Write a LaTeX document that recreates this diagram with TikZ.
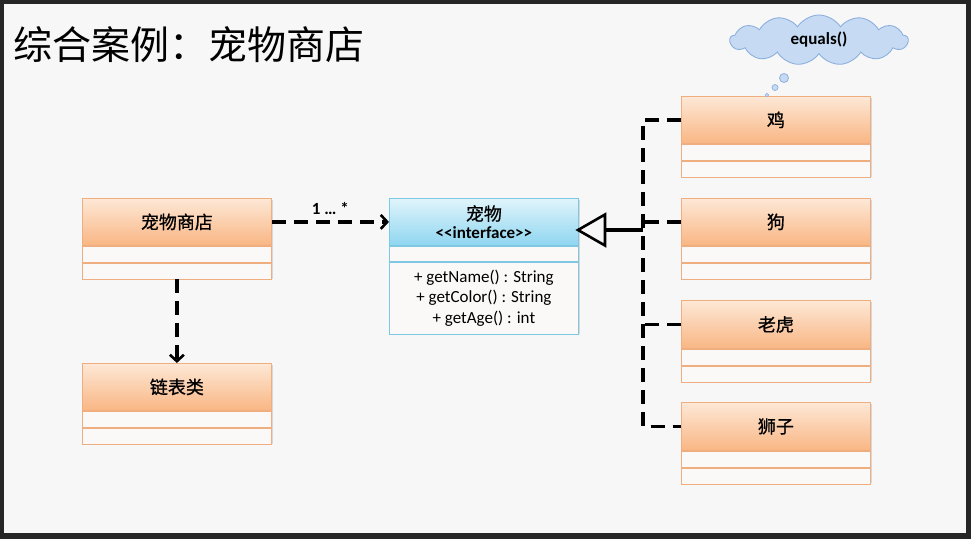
\documentclass[tikz,border=0pt]{standalone}
\usepackage{fontspec}
\setmainfont{Carlito}
\newfontfamily\lat{Carlito}
\newfontfamily\cjk{Noto Sans CJK SC}
\newfontfamily\cjkb{Noto Sans CJK SC}[FakeBold=0.8]
\usetikzlibrary{arrows.meta,shapes.symbols,calc}
\definecolor{bgdark}{HTML}{262626}
\definecolor{page}{HTML}{F7F7F7}
\definecolor{ortop}{HTML}{FDE8D6}
\definecolor{orbot}{HTML}{F9B684}
\definecolor{orline}{HTML}{EFAE80}
\definecolor{rowfill}{HTML}{FBF9F8}
\definecolor{bltop}{HTML}{E0F4FB}
\definecolor{blbot}{HTML}{8FD6F0}
\definecolor{blline}{HTML}{7FC8E4}
\definecolor{cloudfill}{HTML}{C6DBF3}
\definecolor{cloudline}{HTML}{8CB0DE}
\tikzset{
  hdr/.style={draw=orline, line width=0.8pt, top color=ortop, bottom color=orbot,
    minimum width=189, minimum height=47, anchor=north west, inner sep=0pt,
    font=\cjkb\fontsize{18}{20}\selectfont},
  rowbox/.style={draw=orline, line width=0.8pt, fill=rowfill, minimum width=189,
    minimum height=16, anchor=north west, inner sep=0pt},
  bhdr/.style={hdr, draw=blline, top color=bltop, bottom color=blbot, align=center},
  brow/.style={rowbox, draw=blline},
  shade/.style={fill=black, opacity=0.12},
  dashline/.style={line width=3.2pt, dash pattern=on 14pt off 8pt, black},
  depend/.style={dashline, -{Straight Barb[length=6.5pt,width=14pt,line width=2.6pt]}},
}
\begin{document}
\begin{tikzpicture}[x=1pt,y=-1pt]
\fill[bgdark] (0,0) rectangle (971,539);
\fill[page] (4,4) rectangle (966,533);
\useasboundingbox (0,0) rectangle (971,539);

% title
\node[anchor=west, inner sep=0pt, font=\cjk\fontsize{39}{42}\selectfont] (title) at (13,45) {综合案例：宠物商店};

% shadows
\foreach \x/\y/\h in {82/198/79, 82/363/79, 389/198/134, 681/96/79, 681/198/79, 681/300/79, 681/402/79}
  \fill[shade] (\x+2,\y+2) rectangle ++(189,\h);

% 宠物商店
\node[hdr] (shop) at (82,198) {宠物商店};
\node[rowbox] (shopa) at (shop.south west) {};
\node[rowbox] (shopb) at (shopa.south west) {};

% 链表类
\node[hdr] (list) at (82,363) {链表类};
\node[rowbox] (lista) at (list.south west) {};
\node[rowbox] (listb) at (lista.south west) {};

% interface
\node[bhdr] (iface) at (389,198) {宠物\\[-2pt]\lat\bfseries\fontsize{17}{19}\selectfont <<interface>>};
\node[brow, minimum height=15] (ifacea) at (iface.south west) {};
\node[brow, minimum height=72, align=center, font=\lat\fontsize{17}{20.5}\selectfont] (ifaceb) at (ifacea.south west)
  {+ getName() : String\\+ getColor() : String\\+ getAge() : int};

% right classes
\node[hdr] (chick) at (681,96) {鸡};
\node[rowbox] (chicka) at (chick.south west) {};
\node[rowbox] (chickb) at (chicka.south west) {};

\node[hdr] (dog) at (681,198) {狗};
\node[rowbox] (doga) at (dog.south west) {};
\node[rowbox] (dogb) at (doga.south west) {};

\node[hdr, minimum height=48] (tiger) at (681,300) {老虎};
\node[rowbox] (tigera) at (tiger.south west) {};
\node[rowbox] (tigerb) at (tigera.south west) {};

\node[hdr, minimum height=48] (lion) at (681,402) {狮子};
\node[rowbox] (liona) at (lion.south west) {};
\node[rowbox] (lionb) at (liona.south west) {};

% associations
\draw[depend] (shop.east) -- node[above=2pt, font=\lat\bfseries\fontsize{17}{19}\selectfont] (mult) {1 … *} (iface.west);
\draw[depend] (shopb.south) -- (list.north);

% realization
\coordinate (tip) at (578,230);
\coordinate (tribase) at (605,230);
\coordinate (bus) at (643,230);
\draw[dashline] (chick.west) -| (bus) |- (lion.west);
\draw[dashline] (dog.west) -- (dog.west -| bus);
\draw[dashline] (tiger.west) -- (tiger.west -| bus);
\draw[line width=3.2pt] (tribase) -- (bus);
\draw[line width=2.6pt, fill=page, line join=miter] (tip) -- (605,214.5) -- (605,245.5) -- cycle;

% cloud
\node[cloud, cloud puffs=13, cloud puff arc=115, aspect=3.0, draw=cloudline, line width=0.9pt,
  fill=cloudfill, minimum width=178, minimum height=50, inner sep=0pt,
  font=\lat\bfseries\fontsize{17}{19}\selectfont] (cloud) at (819,40) {equals()};
\node[circle, draw=cloudline, fill=cloudfill, line width=0.8pt, minimum size=9, inner sep=0pt] (b1) at (784,78) {};
\node[circle, draw=cloudline, fill=cloudfill, line width=0.7pt, minimum size=6, inner sep=0pt] (b2) at (775,87.5) {};
\node[circle, draw=cloudline, fill=cloudfill, line width=0.6pt, minimum size=3.5, inner sep=0pt] (b3) at (767,95) {};
\end{tikzpicture}
\end{document}
